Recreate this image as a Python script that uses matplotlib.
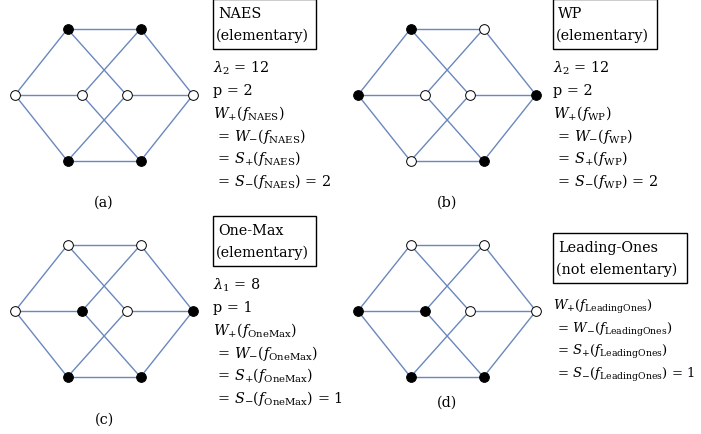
import numpy as np
import matplotlib.pyplot as plt
from matplotlib.patches import Rectangle

plt.rcParams['font.family'] = 'DejaVu Serif'
plt.rcParams['mathtext.fontset'] = 'dejavuserif'

# Data: cube graph vertices (TL, TR, L, IL, IR, R, BL, BR) and edges
vx = np.array([-36.5, 36.5, -89, -22, 22.5, 89, -36.5, 36.5])
vy = np.array([-66, -66, 0, 0, 0, 0, 66, 66])
edges = [(0, 1), (1, 5), (5, 7), (7, 6), (6, 2), (2, 0),
         (2, 3), (4, 5), (0, 4), (1, 3), (3, 7), (4, 6)]

# filled (1) / open (0) vertices per panel
fill_a = [1, 1, 0, 0, 0, 0, 1, 1]
fill_b = [1, 0, 1, 0, 0, 1, 0, 1]
fill_c = [0, 0, 0, 1, 0, 1, 1, 1]
fill_d = [0, 0, 1, 1, 0, 0, 1, 1]
fills = [fill_a, fill_b, fill_c, fill_d]
panel_labels = ['(a)', '(b)', '(c)', '(d)']
titles = ['NAES\n(elementary)', 'WP\n(elementary)',
          'One-Max\n(elementary)', 'Leading-Ones\n(not elementary)']
names = ['NAES', 'WP', 'OneMax', 'LeadingOnes']
lam = [r'$\lambda_2$ = 12', r'$\lambda_2$ = 12', r'$\lambda_1$ = 8', None]
pval = ['p = 2', 'p = 2', 'p = 1', None]
result = ['2', '2', '1', '1']

# layout (pixels)
centers = [(104, 96), (447, 96), (104, 312), (447, 312)]
label_y = [203, 203, 420, 403]
box_xy = [(213, 0), (553, 0), (213, 217), (553, 234)]
box_w = [103, 104, 103, 134]
text_y0 = [68, 68, 285, 307]
formula_fs = [10.4, 10.4, 10.4, 9.5]

fig = plt.figure(figsize=(7.01, 4.35), dpi=100)
ax = fig.add_axes([0, 0, 1, 1])
ax.set_xlim(0, 701)
ax.set_ylim(435, 0)
ax.axis('off')

fs = 10.4
edge_col = '#6a88bd'
for k in range(4):
    cx, cy = centers[k]
    px = vx + cx
    py = vy + cy
    for i, j in edges:
        ax.plot([px[i], px[j]], [py[i], py[j]], color=edge_col, lw=1.0, zorder=1)
    for i in range(8):
        fc = 'black' if fills[k][i] else 'white'
        ax.plot(px[i], py[i], 'o', ms=7, mfc=fc, mec='black', mew=0.7, zorder=3)
    ax.text(cx, label_y[k], panel_labels[k], ha='center', va='center', fontsize=fs)

    # boxed title
    bx, by = box_xy[k]
    ax.add_patch(Rectangle((bx, by), box_w[k], 50, fill=False, ec='black', lw=1.0,
                           clip_on=False))
    t1, t2 = titles[k].split('\n')
    ax.text(bx + 5, by + 14, t1, ha='left', va='center', fontsize=fs)
    ax.text(bx + 3, by + 36, t2, ha='left', va='center', fontsize=fs)

    # formulas
    n = names[k]
    lines = []
    if lam[k]:
        lines += [lam[k], pval[k]]
    lines += [r'$W_{+}(f_{\mathrm{%s}})$' % n,
              r' = $W_{-}(f_{\mathrm{%s}})$' % n,
              r' = $S_{+}(f_{\mathrm{%s}})$' % n,
              r' = $S_{-}(f_{\mathrm{%s}})$ = %s' % (n, result[k])]
    y = text_y0[k]
    for s in lines:
        ax.text(bx, y, s, ha='left', va='center', fontsize=formula_fs[k])
        y += 22.7

fig.savefig('out.png', dpi=100)
